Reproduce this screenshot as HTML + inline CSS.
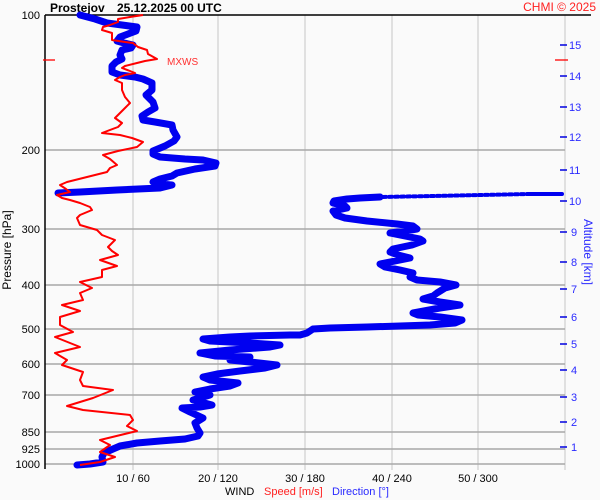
<!DOCTYPE html>
<html><head><meta charset="utf-8"><style>
html,body{margin:0;padding:0;background:#fafafa;}
svg{display:block;}
text{font-family:"Liberation Sans",Arial,sans-serif;}
</style></head><body>
<svg width="600" height="500" viewBox="0 0 600 500" xmlns="http://www.w3.org/2000/svg">
<rect width="600" height="500" fill="#fafafa"/>
<!-- vertical grid -->
<g stroke="#d8d8d8" stroke-width="1.5">
<line x1="133" y1="15" x2="133" y2="470"/>
<line x1="218" y1="15" x2="218" y2="470"/>
<line x1="305" y1="15" x2="305" y2="470"/>
<line x1="392" y1="15" x2="392" y2="470"/>
<line x1="478" y1="15" x2="478" y2="470"/>
<line x1="565" y1="15" x2="565" y2="470"/>
</g>
<!-- horizontal grid -->
<g stroke="#a8a8a8" stroke-width="1.5">
<line x1="45" y1="150" x2="565" y2="150"/>
<line x1="45" y1="229" x2="565" y2="229"/>
<line x1="45" y1="285" x2="565" y2="285"/>
<line x1="45" y1="329" x2="565" y2="329"/>
<line x1="45" y1="364" x2="565" y2="364"/>
<line x1="45" y1="395" x2="565" y2="395"/>
<line x1="45" y1="432" x2="565" y2="432"/>
<line x1="45" y1="449" x2="565" y2="449"/>
<line x1="45" y1="464" x2="565" y2="464"/>
</g>
<!-- axes -->
<line x1="45" y1="15" x2="591" y2="15" stroke="#000" stroke-width="1.5"/>
<line x1="45" y1="15" x2="45" y2="469" stroke="#000" stroke-width="1.5"/>
<!-- MXWS ticks -->
<line x1="43" y1="60" x2="55" y2="60" stroke="#f00" stroke-width="1.3"/>
<line x1="555" y1="60" x2="568" y2="60" stroke="#f00" stroke-width="1.3"/>
<text x="167" y="65" font-size="10" fill="#ff3030">MXWS</text>
<!-- altitude ticks -->
<g stroke="#0000e0" stroke-width="1.5">
<line x1="560" y1="45" x2="567" y2="45"/>
<line x1="560" y1="76" x2="567" y2="76"/>
<line x1="560" y1="107" x2="567" y2="107"/>
<line x1="560" y1="137" x2="567" y2="137"/>
<line x1="560" y1="170" x2="567" y2="170"/>
<line x1="560" y1="201" x2="567" y2="201"/>
<line x1="560" y1="232" x2="567" y2="232"/>
<line x1="560" y1="262" x2="567" y2="262"/>
<line x1="560" y1="289" x2="567" y2="289"/>
<line x1="560" y1="317" x2="567" y2="317"/>
<line x1="560" y1="344" x2="567" y2="344"/>
<line x1="560" y1="370" x2="567" y2="370"/>
<line x1="560" y1="397" x2="567" y2="397"/>
<line x1="560" y1="422" x2="567" y2="422"/>
<line x1="560" y1="447" x2="567" y2="447"/>
</g>
<g font-size="11" fill="#2a2aff">
<text x="569" y="49">15</text>
<text x="569" y="80">14</text>
<text x="569" y="111">13</text>
<text x="569" y="141">12</text>
<text x="569" y="174">11</text>
<text x="569" y="205">10</text>
<text x="571" y="236">9</text>
<text x="571" y="266">8</text>
<text x="571" y="293">7</text>
<text x="571" y="321">6</text>
<text x="571" y="348">5</text>
<text x="571" y="374">4</text>
<text x="571" y="401">3</text>
<text x="571" y="426">2</text>
<text x="571" y="451">1</text>
</g>
<text transform="translate(584,252) rotate(90)" font-size="12" fill="#2a2aff" text-anchor="middle">Altitude [km]</text>
<!-- pressure labels -->
<g font-size="11" fill="#000" text-anchor="end">
<text x="40" y="19">100</text>
<text x="40" y="154">200</text>
<text x="40" y="233">300</text>
<text x="40" y="289">400</text>
<text x="40" y="333">500</text>
<text x="40" y="368">600</text>
<text x="40" y="399">700</text>
<text x="40" y="436">850</text>
<text x="40" y="453">925</text>
<text x="40" y="468">1000</text>
</g>
<text transform="translate(11,250) rotate(-90)" font-size="12" fill="#000" text-anchor="middle">Pressure [hPa]</text>
<!-- x labels -->
<g font-size="11" fill="#000" text-anchor="middle">
<text x="133" y="482">10 / 60</text>
<text x="218" y="482">20 / 120</text>
<text x="305" y="482">30 / 180</text>
<text x="392" y="482">40 / 240</text>
<text x="478" y="482">50 / 300</text>
</g>
<text x="225" y="495" font-size="11" fill="#000">WIND</text>
<text x="264" y="495" font-size="11" fill="#ff2020">Speed [m/s]</text>
<text x="332" y="495" font-size="11" fill="#2a2aff">Direction [°]</text>
<!-- title -->
<text x="50" y="12" font-size="12" font-weight="bold" fill="#000">Prostejov</text>
<text x="117" y="12" font-size="12" font-weight="bold" fill="#000">25.12.2025 00 UTC</text>
<text x="596" y="11" font-size="12" fill="#ff2020" text-anchor="end">CHMI © 2025</text>
<!-- direction (blue) -->
<g fill="none" stroke="#0000f0" stroke-linejoin="round" stroke-linecap="round">
<polyline stroke-width="7" points="80,15 95,19 107,23 122,25 137,27 136,31 128,34 120,37 117,41 124,43 133,45 131,48 122,50 120,55 122,59 116,62 112,66 112,72 120,75 135,77 143,79 152,83 152,90 146,95 150,99 153,102 155,108 148,112 142,116 143,120 155,122 172,125 173,130 177,137 174,141 165,146 153,151 153,154 160,157 185,159 203,160 216,163 215,166 195,169 177,173 172,176 160,179 153,182 160,184 172,185 160,188 117,190 80,192 58,193"/>
<polyline stroke-width="4" points="562,194 530,194"/>
<polyline stroke-width="4" stroke-dasharray="3 3" points="530,194 433,196 380,197"/>
<polyline stroke-width="7" points="380,197 360,198 347,199 334,201 333,203 345,206 347,208 333,211 336,215 345,218 367,221 397,224 413,226 417,229 405,231 390,233 400,235 420,239 423,241 412,245 393,249 390,252 398,255 410,258 400,260 380,264 385,267 400,270 413,273 410,277 417,280 440,282 456,285 445,288 437,293 433,296 423,299 440,302 460,305 440,308 413,313 418,315 440,317 462,320 455,323 430,325 400,326 367,327 330,328 313,329 307,333 300,335 290,335 250,336 230,337 203,339 210,341 250,343 280,345 270,347 230,350 200,353 215,356 250,357 230,360 250,362 277,365 265,368 240,371 217,374 203,377 210,380 238,383 230,386 210,389 195,392 210,395 193,400 212,405 200,407 182,408 190,412 203,418 195,423 197,428 200,433 198,436 185,439 160,441 137,443 120,446 113,449 104,453 102,457 103,462 90,464 77,465"/>
</g>
<!-- speed (red) -->
<polyline fill="none" stroke="#ff0000" stroke-width="2" stroke-linejoin="round" points="143,15 130,17 118,19 118,22 110,25 103,27 102,30 112,33 112,40 125,42 133,43 138,47 147,50 148,54 157,59 145,61 137,63 125,66 122,68 130,71 135,73 125,75 120,77 115,80 122,83 122,90 125,97 130,103 126,107 123,110 115,118 122,123 118,127 102,133 120,135 132,138 143,142 137,147 118,151 103,155 110,159 117,165 110,168 107,172 83,178 67,182 60,185 66,189 70,192 57,195 62,198 70,200 80,203 90,207 92,210 80,215 77,218 80,225 97,230 102,235 115,240 108,247 112,251 118,255 100,260 117,266 102,270 102,277 80,282 92,288 80,293 83,300 62,305 80,311 60,317 60,325 73,332 55,337 80,347 55,353 67,360 62,365 83,372 80,380 83,386 113,390 93,398 67,406 83,410 130,415 133,420 127,426 137,431 100,440 110,445 100,452 115,457 100,462 80,465"/>
</svg>
</body></html>
